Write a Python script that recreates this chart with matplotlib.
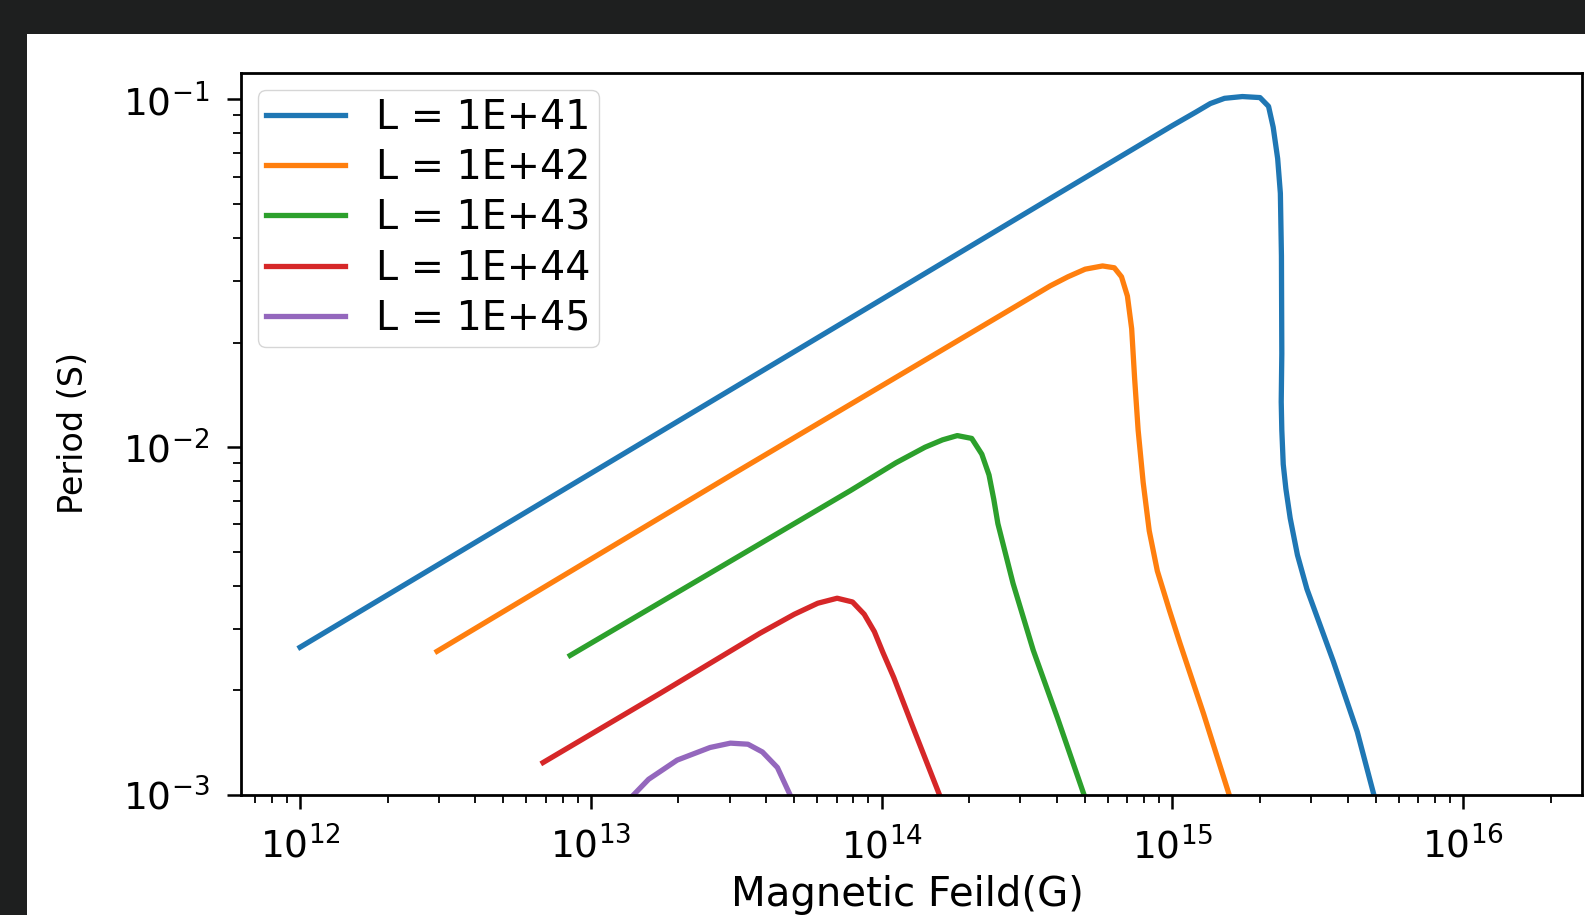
"""Period vs magnetic field for several luminosities (log-log)."""

from matplotlib import pyplot as plt
from matplotlib.patches import Rectangle

# values: field B (G), period P (s)
b_41 = [1.00e12, 1.00e13, 1.00e14, 3.80e14, 1.00e15, 1.20e15, 1.35e15, 1.51e15,
        1.74e15, 2.00e15, 2.14e15, 2.22e15, 2.30e15, 2.35e15, 2.37e15, 2.377e15,
        2.366e15, 2.377e15, 2.404e15, 2.455e15, 2.54e15, 2.69e15, 2.90e15,
        3.57e15, 4.32e15, 5.01e15]
p_41 = [2.66e-3, 8.41e-3, 2.66e-2, 5.19e-2, 8.41e-2, 9.18e-2, 9.73e-2, 0.1007,
        0.1019, 0.1012, 0.0955, 0.0832, 0.0676, 0.0537, 0.0355, 0.0186,
        0.0135, 0.0112, 8.93e-3, 7.59e-3, 6.25e-3, 4.90e-3, 3.91e-3,
        2.43e-3, 1.52e-3, 9.5e-4]

b_42 = [2.96e12, 3.16e13, 3.80e14, 4.37e14, 5.01e14, 5.75e14, 6.31e14, 6.68e14,
        7.00e14, 7.24e14, 7.41e14, 7.62e14, 7.93e14, 8.32e14, 8.87e14, 9.77e14,
        1.06e15, 1.28e15, 1.58e15]
p_42 = [2.59e-3, 8.48e-3, 2.91e-2, 3.09e-2, 3.25e-2, 3.32e-2, 3.28e-2, 3.09e-2,
        2.72e-2, 2.19e-2, 1.58e-2, 1.12e-2, 7.92e-3, 5.75e-3, 4.41e-3, 3.39e-3,
        2.74e-3, 1.71e-3, 9.8e-4]

b_43 = [8.49e12, 7.80e13, 1.12e14, 1.41e14, 1.62e14, 1.82e14, 2.04e14, 2.21e14,
        2.34e14, 2.43e14, 2.51e14, 2.83e14, 3.32e14, 4.02e14, 5.01e14]
p_43 = [2.52e-3, 7.50e-3, 9.02e-3, 1.00e-2, 1.05e-2, 1.08e-2, 1.06e-2, 9.55e-3,
        8.32e-3, 7.08e-3, 6.03e-3, 4.06e-3, 2.61e-3, 1.67e-3, 9.8e-4]

b_44 = [6.85e12, 1.73e13, 3.82e13, 5.01e13, 6.03e13, 7.03e13, 7.94e13, 8.71e13,
        9.44e13, 1.01e14, 1.10e14, 1.28e14, 1.62e14]
p_44 = [1.24e-3, 1.96e-3, 2.92e-3, 3.31e-3, 3.56e-3, 3.68e-3, 3.59e-3, 3.31e-3,
        2.95e-3, 2.57e-3, 2.18e-3, 1.57e-3, 9.5e-4]

b_45 = [1.32e13, 1.58e13, 1.98e13, 2.57e13, 3.02e13, 3.47e13, 3.89e13, 4.38e13,
        4.90e13]
p_45 = [9.5e-4, 1.11e-3, 1.26e-3, 1.37e-3, 1.41e-3, 1.40e-3, 1.33e-3, 1.20e-3,
        9.8e-4]

labels = ["L = 1E+41", "L = 1E+42", "L = 1E+43", "L = 1E+44", "L = 1E+45"]
colors = ["#1f77b4", "#ff7f0e", "#2ca02c", "#d62728", "#9467bd"]

fig = plt.figure(figsize=(15.85, 9.15), dpi=100, facecolor="white")
# dark surround of the screenshot (top strip and left strip)
dark = "#1e1f1f"
fig.patches.append(Rectangle((0, 1 - 34 / 915), 1, 34 / 915,
                             transform=fig.transFigure, facecolor=dark,
                             edgecolor="none", zorder=-10))
fig.patches.append(Rectangle((0, 0), 27 / 1585, 1,
                             transform=fig.transFigure, facecolor=dark,
                             edgecolor="none", zorder=-10))

ax = fig.add_axes([0.1521, 0.1311, 0.846, 0.789])
series = [(b_41, p_41), (b_42, p_42), (b_43, p_43), (b_44, p_44), (b_45, p_45)]
for (b, p), lab, col in zip(series, labels, colors):
    ax.plot(b, p, color=col, lw=3.8, label=lab)

ax.set_xscale("log")
ax.set_yscale("log")
ax.set_xlim(6.27e11, 2.56e16)
ax.set_ylim(1e-3, 0.119)

for s in ax.spines.values():
    s.set_linewidth(2.0)
ax.tick_params(which="major", length=10, width=1.8, labelsize=27, pad=13)
ax.tick_params(which="minor", length=5.5, width=1.3)

ax.set_xlabel("Magnetic Feild(G)", fontsize=29)
ax.set_ylabel("Period (S)", fontsize=24)
ax.xaxis.set_label_coords(0.497, -0.138)
ax.xaxis.label.set_verticalalignment("center")
ax.yaxis.set_label_coords(-0.125, 0.502)
ax.yaxis.label.set_verticalalignment("center")

ax.legend(loc="upper left", fontsize=28.5, handlelength=2.0, labelspacing=0.26,
          borderaxespad=0.42, borderpad=0.2)

fig.savefig("out.png", dpi=100)
